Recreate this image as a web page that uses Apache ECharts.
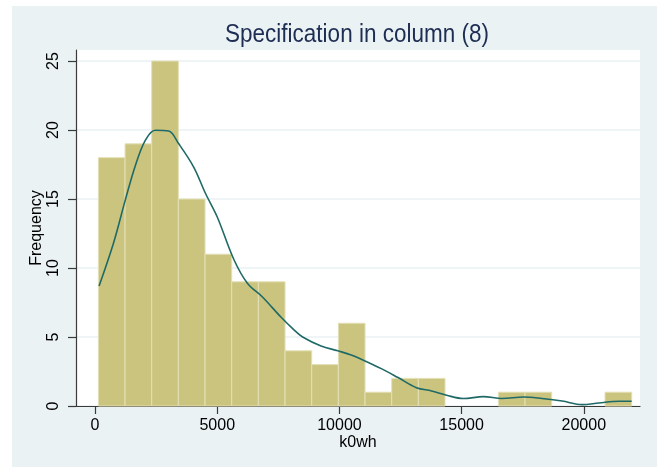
<!DOCTYPE html>
<html>
<head>
<meta charset="utf-8">
<script src="https://cdn.jsdelivr.net/npm/echarts@6/dist/echarts.min.js"></script>
<style>
  html, body { margin: 0; padding: 0; background: #ffffff; }
  #bg { position: absolute; left: 12px; top: 6px; width: 645px; height: 461px; background: #eaf2f3; }
  #chart { position: absolute; left: 0; top: 0; width: 659px; height: 467px; }
</style>
</head>
<body>
<div id="bg"></div>
<div id="chart"></div>
<script>
// ---- data ----
const titleText = "Specification in column (8)";
const xAxisTitle = "k0wh";
const yAxisTitle = "Frequency";
const binStart = 136;
const binWidth = 1091.2;
const counts = [18, 19, 25, 15, 11, 9, 9, 4, 3, 6, 1, 2, 2, 0, 0, 1, 1, 0, 0, 1];
const xTicks = [0, 5000, 10000, 15000, 20000];
const yTicks = [0, 5, 10, 15, 20, 25];
const densityX = [164, 753, 1233, 1644, 2055, 2466, 3014, 3425, 4041, 4521, 5000, 5685, 6233, 6850, 7604, 8151, 8493, 9248, 9932, 10481, 11028, 11714, 12400, 13152, 13769, 14385, 15072, 15894, 16646, 17538, 18290, 19112, 19934, 20620, 21442, 21960];
const densityY = [8.7, 11.8, 14.9, 17.4, 19.25, 19.98, 19.93, 19.0, 17.3, 15.4, 13.7, 10.6, 8.9, 7.9, 6.45, 5.5, 5.0, 4.35, 4.0, 3.7, 3.28, 2.71, 2.06, 1.33, 1.09, 0.78, 0.54, 0.68, 0.54, 0.65, 0.54, 0.36, 0.1, 0.22, 0.34, 0.34];

// ---- build ----
const barData = counts.map((c, i) => [binStart + i * binWidth, binStart + (i + 1) * binWidth, c]);
const lineData = densityX.map((x, i) => [x, densityY[i]]);

const chart = echarts.init(document.getElementById('chart'), null, { renderer: 'canvas' });
const font = '"Liberation Sans", Arial, Helvetica, sans-serif';

chart.setOption({
  backgroundColor: 'transparent',
  animation: false,
  textStyle: { fontFamily: font },
  graphic: [{
    type: 'text',
    x: 357,
    y: 35,
    scaleY: 1.15,
    style: {
      text: titleText,
      font: 'normal 22.5px ' + font,
      fill: '#1e2d53',
      align: 'center',
      verticalAlign: 'middle'
    }
  }],
  grid: {
    left: 76, right: 19, top: 50, bottom: 61,
    show: true, backgroundColor: '#ffffff', borderWidth: 0
  },
  xAxis: {
    type: 'value',
    min: -780, max: 22300,
    name: xAxisTitle,
    nameLocation: 'middle',
    nameGap: 29,
    nameMoveOverlap: false,
    nameTextStyle: { fontFamily: font, fontSize: 16, color: '#000' },
    axisLine: { show: true, onZero: false, lineStyle: { color: '#3a3a3a', width: 1.2 } },
    axisTick: { show: true, length: 8, customValues: xTicks, lineStyle: { color: '#3a3a3a', width: 1.2 } },
    axisLabel: { customValues: xTicks, formatter: v => String(v), fontFamily: font, fontSize: 16, color: '#000', margin: 12 },
    splitLine: { show: false }
  },
  yAxis: {
    type: 'value',
    min: 0, max: 25.8,
    name: yAxisTitle,
    nameLocation: 'middle',
    nameRotate: 90,
    nameGap: 31,
    nameMoveOverlap: false,
    nameTextStyle: { fontFamily: font, fontSize: 16, color: '#000' },
    axisLine: { show: true, onZero: false, lineStyle: { color: '#3a3a3a', width: 1.2 } },
    axisTick: { show: true, length: 8, customValues: yTicks, lineStyle: { color: '#3a3a3a', width: 1.2 } },
    axisLabel: { customValues: yTicks, formatter: v => String(v), rotate: 90, fontFamily: font, fontSize: 16, color: '#000', margin: 14 },
    splitLine: { show: true, lineStyle: { color: '#eaf2f3', width: 1.5 } }
  },
  series: [
    {
      type: 'custom',
      data: barData,
      renderItem: function (params, api) {
        const x0 = api.value(0), x1 = api.value(1), v = api.value(2);
        if (!v) return null;
        const p0 = api.coord([x0, 0]);
        const p1 = api.coord([x1, v]);
        return {
          type: 'rect',
          shape: { x: p0[0], y: p1[1], width: p1[0] - p0[0], height: p0[1] - p1[1] },
          style: { fill: '#cbc47f', stroke: '#e4e0b6', lineWidth: 1 }
        };
      },
      encode: { x: [0, 1], y: 2 },
      z: 2
    },
    {
      type: 'line',
      data: lineData,
      smooth: 0.35,
      showSymbol: false,
      lineStyle: { color: '#1f6a66', width: 1.6 },
      z: 3
    }
  ]
});
</script>
</body>
</html>
